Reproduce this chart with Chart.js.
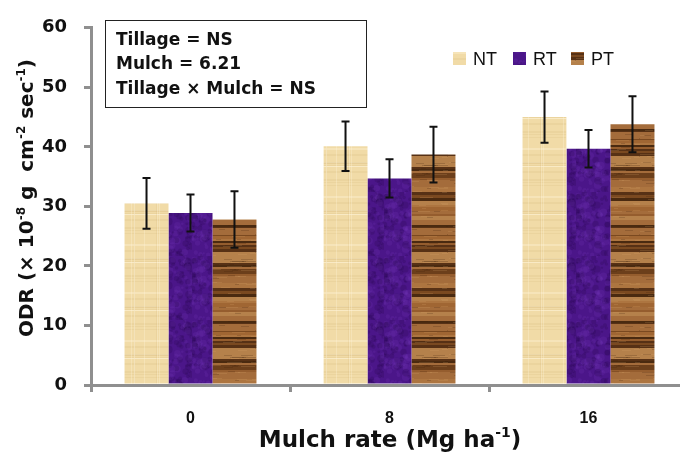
<!DOCTYPE html>
<html>
<head>
<meta charset="utf-8">
<script src="https://cdn.jsdelivr.net/npm/chart.js@4.4.1/dist/chart.umd.min.js"></script>
<style>
  html, body { margin: 0; padding: 0; background: #fff; }
  #wrap { width: 680px; height: 454px; overflow: hidden; position: relative; }
  canvas { display: block; }
</style>
</head>
<body>
<div id="wrap"><canvas id="odrChart" width="700" height="454"></canvas></div>
<script>
// Chart data
const mulchRates = ['0', '8', '16'];
const tillageNames = ['NT', 'RT', 'PT'];
const ntMeans = [30.5, 40.1, 45.0];
const rtMeans = [28.9, 34.7, 39.7];
const ptMeans = [27.8, 38.7, 43.8];
const ntErrors = [4.25, 4.15, 4.3];
const rtErrors = [3.1, 3.2, 3.15];
const ptErrors = [4.75, 4.7, 4.7];
const yTicks = [0, 10, 20, 30, 40, 50, 60];
const statLines = ['Tillage = NS', 'Mulch = 6.21', 'Tillage × Mulch = NS'];

const axisGray = '#8f8f8f';
const boldFont = '"DejaVu Sans", sans-serif';

// deterministic noise, only for the bar textures
function seeded(seed) {
  let s = seed;
  return () => { s = (s * 16807) % 2147483647; return (s - 1) / 2147483646; };
}

function papyrusPattern(ctx) {
  const c = document.createElement('canvas');
  c.width = 48; c.height = 48;
  const g = c.getContext('2d');
  g.fillStyle = '#f1dba7';
  g.fillRect(0, 0, 48, 48);
  const rnd = seeded(11);
  for (let i = 0; i < 12; i++) {
    g.fillStyle = rnd() > 0.5 ? 'rgba(255,246,222,0.35)' : 'rgba(214,186,124,0.2)';
    g.fillRect(0, Math.floor(rnd() * 48), 48, 1 + Math.floor(rnd() * 2));
  }
  for (let i = 0; i < 8; i++) {
    g.fillStyle = rnd() > 0.5 ? 'rgba(255,246,222,0.3)' : 'rgba(210,180,116,0.18)';
    g.fillRect(Math.floor(rnd() * 48), 0, 1, 48);
  }
  return ctx.createPattern(c, 'repeat');
}

function velvetPattern(ctx) {
  const c = document.createElement('canvas');
  c.width = 64; c.height = 64;
  const g = c.getContext('2d');
  g.fillStyle = '#4b1689';
  g.fillRect(0, 0, 64, 64);
  const rnd = seeded(29);
  for (let i = 0; i < 220; i++) {
    g.fillStyle = rnd() > 0.5 ? 'rgba(115,55,185,0.2)' : 'rgba(35,5,70,0.2)';
    g.beginPath();
    g.arc(rnd() * 64, rnd() * 64, 1 + rnd() * 3, 0, Math.PI * 2);
    g.fill();
  }
  return ctx.createPattern(c, 'repeat');
}

function woodPattern(ctx) {
  const c = document.createElement('canvas');
  c.width = 64; c.height = 96;
  const g = c.getContext('2d');
  const light = ['#a06633', '#ad7540', '#955d2e', '#b5814b', '#a46c3b'];
  const dark = ['#6c3f1b', '#573115', '#7a4920', '#4a2a10'];
  const rnd = seeded(7);
  let y = 0;
  while (y < 96) {
    const isDark = rnd() < 0.38;
    const h = isDark ? 1 + Math.floor(rnd() * 3) : 2 + Math.floor(rnd() * 4);
    const pal = isDark ? dark : light;
    g.fillStyle = pal[Math.floor(rnd() * pal.length)];
    g.fillRect(0, y, 64, h);
    y += h;
  }
  // faint grain across the bands
  for (let i = 0; i < 80; i++) {
    g.fillStyle = rnd() > 0.5 ? 'rgba(60,30,10,0.2)' : 'rgba(220,170,110,0.18)';
    g.fillRect(Math.floor(rnd() * 64), Math.floor(rnd() * 96), 4 + Math.floor(rnd() * 12), 1);
  }
  return ctx.createPattern(c, 'repeat');
}

function drawRich(g, parts, x, y, size, align) {
  const base = `bold ${size}px ${boldFont}`;
  const sup = `bold ${Math.round(size * 0.62)}px ${boldFont}`;
  let total = 0;
  parts.forEach(p => { g.font = p.sup ? sup : base; total += g.measureText(p.t).width; });
  let cx = align === 'center' ? x - total / 2 : x;
  g.textAlign = 'left';
  g.textBaseline = 'alphabetic';
  parts.forEach(p => {
    g.font = p.sup ? sup : base;
    g.fillText(p.t, cx, p.sup ? y - size * 0.42 : y);
    cx += g.measureText(p.t).width;
  });
}

const errorBarPlugin = {
  id: 'errorBars',
  afterDatasetsDraw(chart) {
    const g = chart.ctx;
    const yScale = chart.scales.y;
    g.save();
    g.strokeStyle = '#111';
    g.lineWidth = 2;
    chart.data.datasets.forEach((ds, i) => {
      chart.getDatasetMeta(i).data.forEach((bar, j) => {
        const top = yScale.getPixelForValue(ds.data[j] + ds.errors[j]);
        const bot = yScale.getPixelForValue(ds.data[j] - ds.errors[j]);
        g.beginPath();
        g.moveTo(bar.x, top); g.lineTo(bar.x, bot);
        g.moveTo(bar.x - 4, top); g.lineTo(bar.x + 4, top);
        g.moveTo(bar.x - 4, bot); g.lineTo(bar.x + 4, bot);
        g.stroke();
      });
    });
    g.restore();
  }
};

const decorPlugin = {
  id: 'decor',
  afterDraw(chart) {
    const g = chart.ctx;
    g.save();
    g.fillStyle = '#111';

    // statistics box
    g.strokeStyle = '#222';
    g.lineWidth = 1;
    g.strokeRect(105.5, 20.5, 261, 87);
    g.font = `bold 17px ${boldFont}`;
    g.textAlign = 'left';
    g.textBaseline = 'alphabetic';
    statLines.forEach((line, i) => g.fillText(line, 116, 44.5 + i * 24.5));

    // legend
    const fills = chart.data.datasets.map(ds => ds.backgroundColor);
    const legendX = [453, 513, 571];
    g.font = '18px "Liberation Sans", sans-serif';
    tillageNames.forEach((name, i) => {
      g.fillStyle = fills[i];
      g.fillRect(legendX[i], 52, 13, 13);
      g.fillStyle = '#111';
      g.fillText(name, legendX[i] + 20, 65);
    });

    // axis titles
    drawRich(g, [{ t: 'Mulch rate (Mg ha' }, { t: '-1', sup: true }, { t: ')' }], 390, 447, 23, 'center');
    g.translate(33, 198);
    g.rotate(-Math.PI / 2);
    drawRich(g, [
      { t: 'ODR (× 10' }, { t: '-8', sup: true }, { t: ' g  cm' }, { t: '-2', sup: true },
      { t: ' sec' }, { t: '-1', sup: true }, { t: ')' }
    ], 0, 0, 20, 'center');
    g.restore();
  }
};

const ctx = document.getElementById('odrChart').getContext('2d');
const fillNT = papyrusPattern(ctx);
const fillRT = velvetPattern(ctx);
const fillPT = woodPattern(ctx);

new Chart(ctx, {
  type: 'bar',
  data: {
    labels: mulchRates,
    datasets: [
      { label: tillageNames[0], data: ntMeans, errors: ntErrors, backgroundColor: fillNT },
      { label: tillageNames[1], data: rtMeans, errors: rtErrors, backgroundColor: fillRT },
      { label: tillageNames[2], data: ptMeans, errors: ptErrors, backgroundColor: fillPT }
    ]
  },
  options: {
    responsive: false,
    animation: false,
    layout: { padding: { top: 23, right: 12, left: 0, bottom: 0 } },
    datasets: { bar: { categoryPercentage: 0.663, barPercentage: 1, borderWidth: 0 } },
    plugins: { legend: { display: false }, tooltip: { enabled: false } },
    scales: {
      x: {
        border: { color: axisGray, width: 3 },
        grid: { offset: true, drawOnChartArea: false, tickLength: 7, color: axisGray, lineWidth: 3 },
        ticks: { font: { family: '"Liberation Sans", sans-serif', weight: 'bold', size: 16 }, color: '#111', padding: 17 },
        afterFit: s => { s.height = 69; }
      },
      y: {
        min: 0, max: 60,
        border: { color: axisGray, width: 3 },
        grid: { drawOnChartArea: false, tickLength: 7, color: axisGray, lineWidth: 3 },
        ticks: { font: { family: boldFont, weight: 'bold', size: 18 }, color: '#111', padding: 17 },
        afterBuildTicks: s => { s.ticks = yTicks.map(v => ({ value: v })); },
        afterFit: s => { s.width = 91; }
      }
    }
  },
  plugins: [errorBarPlugin, decorPlugin]
});
</script>
</body>
</html>
